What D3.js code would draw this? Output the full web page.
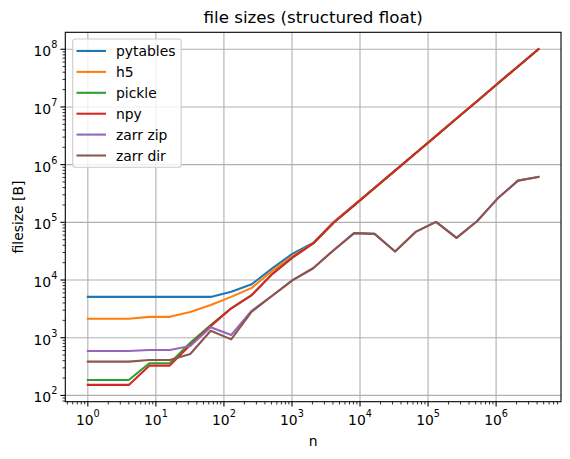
<!DOCTYPE html>
<html>
<head>
<meta charset="utf-8">
<script src="https://cdn.jsdelivr.net/npm/d3@7"></script>
<style>
  body { margin: 0; background: #fff; }
  text { font-family: "DejaVu Sans", sans-serif; fill: #000; }
</style>
</head>
<body>
<svg width="570" height="459"></svg>
<script>
// array sizes (x axis)
var ns = [1, 2, 4, 8, 16, 32, 64, 128, 256, 512, 1024, 2048, 4096, 8192, 16384,
	32768, 65536, 131072, 262144, 524288, 1048576, 2097152, 4194304];

// file sizes in bytes
var pytables = [5100, 5100, 5100, 5100, 5100, 5100, 5100, 6250, 8450, 15900, 28700, 44000,
	101600, 200000, 397000, 790000, 1577000, 3150000, 6296000, 12590000, 25170000, 50340000, 100670000];
var h5 = [2130, 2130, 2130, 2300, 2300, 2800, 3680, 5100, 7300, 14400, 25900, 43000,
	100500, 199000, 396000, 789000, 1576000, 3149000, 6294000, 12587000, 25169000, 50337000, 100668000];
var pickle = [185, 185, 185, 360, 360, 818, 1660, 3230, 5480, 12700, 24700, 43100,
	98600, 196900, 393500, 786700, 1573100, 3146000, 6291700, 12583200, 25166100, 50331900, 100663600];
var npy = [152, 152, 152, 328, 328, 748, 1590, 3230, 5480, 12650, 24600, 43000,
	98432, 196736, 393344, 786560, 1572992, 3145856, 6291584, 12583040, 25165952, 50331776, 100663424];
var zarrZip = [590, 590, 590, 612, 612, 718, 1515, 1115, 2930, 5330, 9950, 16000,
	32900, 65000, 63100, 31300, 68300, 101600, 53700, 104500, 258000, 528000, 611000];
var zarrDir = [385, 385, 385, 411, 411, 522, 1320, 937, 2820, 5330, 9950, 16000,
	32900, 65000, 63100, 31300, 68300, 101600, 53700, 104500, 258000, 528000, 611000];

var seriesNames = ["pytables", "h5", "pickle", "npy", "zarr zip", "zarr dir"];
var seriesValues = [pytables, h5, pickle, npy, zarrZip, zarrDir];
var colors = ["#1f77b4", "#ff7f0e", "#2ca02c", "#d62728", "#9467bd", "#8c564b"];

var xTickExps = [0, 1, 2, 3, 4, 5, 6];
var yTickExps = [2, 3, 4, 5, 6, 7, 8];

var svg = d3.select("svg");
var axLeft = 65.3, axRight = 561, axTop = 32.3, axBottom = 401.7;

// matplotlib style 5% margins in log space
function logDomain(vals)
{
	var lo = Math.log10(d3.min(vals)), hi = Math.log10(d3.max(vals));
	var m = (hi - lo) * 0.05;
	return [Math.pow(10, lo - m), Math.pow(10, hi + m)];
}

var allVals = [].concat.apply([], seriesValues);
var x = d3.scaleLog().domain(logDomain(ns)).range([axLeft, axRight]);
var y = d3.scaleLog().domain(logDomain(allVals)).range([axBottom, axTop]);

// grid
var grid = svg.append("g");
xTickExps.forEach(function(e) {
	var px = x(Math.pow(10, e));
	grid.append("line").attr("x1", px).attr("x2", px).attr("y1", axTop).attr("y2", axBottom)
		.attr("stroke", "#b0b0b0").attr("stroke-width", 1.1);
});
yTickExps.forEach(function(e) {
	var py = y(Math.pow(10, e));
	grid.append("line").attr("x1", axLeft).attr("x2", axRight).attr("y1", py).attr("y2", py)
		.attr("stroke", "#b0b0b0").attr("stroke-width", 1.1);
});

// lines
svg.append("clipPath").attr("id", "clip").append("rect")
	.attr("x", axLeft).attr("y", axTop).attr("width", axRight - axLeft).attr("height", axBottom - axTop);

var line = d3.line()
	.x(function(d, i) { return x(ns[i]); })
	.y(function(d) { return y(d); });

var plot = svg.append("g").attr("clip-path", "url(#clip)");
seriesValues.forEach(function(vals, i) {
	plot.append("path").datum(vals).attr("d", line)
		.attr("fill", "none").attr("stroke", colors[i]).attr("stroke-width", 2.08)
		.attr("stroke-linejoin", "round").attr("stroke-linecap", "square");
});

// minor ticks
function minorTicks(scale)
{
	var d = scale.domain(), out = [];
	for (var e = Math.floor(Math.log10(d[0])); e <= Math.ceil(Math.log10(d[1])); e++)
		for (var m = 2; m <= 9; m++) {
			var v = m * Math.pow(10, e);
			if (v >= d[0] && v <= d[1]) out.push(v);
		}
	return out;
}

var axes = svg.append("g");
minorTicks(x).forEach(function(v) {
	axes.append("line").attr("x1", x(v)).attr("x2", x(v)).attr("y1", axBottom).attr("y2", axBottom + 2.8)
		.attr("stroke", "#000").attr("stroke-width", 0.8);
});
minorTicks(y).forEach(function(v) {
	axes.append("line").attr("x1", axLeft).attr("x2", axLeft - 2.8).attr("y1", y(v)).attr("y2", y(v))
		.attr("stroke", "#000").attr("stroke-width", 0.8);
});

// major ticks and labels
xTickExps.forEach(function(e) {
	var px = x(Math.pow(10, e));
	axes.append("line").attr("x1", px).attr("x2", px).attr("y1", axBottom).attr("y2", axBottom + 4.9)
		.attr("stroke", "#000").attr("stroke-width", 1.1);
	var t = axes.append("text").attr("x", px).attr("y", axBottom + 23.5)
		.attr("text-anchor", "middle").style("font-size", "13.9px");
	t.append("tspan").text("10");
	t.append("tspan").attr("dy", -8).style("font-size", "9.7px").text(e);
});
yTickExps.forEach(function(e) {
	var py = y(Math.pow(10, e));
	axes.append("line").attr("x1", axLeft).attr("x2", axLeft - 4.9).attr("y1", py).attr("y2", py)
		.attr("stroke", "#000").attr("stroke-width", 1.1);
	var t = axes.append("text").attr("x", axLeft - 8).attr("y", py + 7)
		.attr("text-anchor", "end").style("font-size", "13.9px");
	t.append("tspan").text("10");
	t.append("tspan").attr("dy", -8).style("font-size", "9.7px").text(e);
});

// frame
svg.append("rect").attr("x", axLeft).attr("y", axTop).attr("width", axRight - axLeft).attr("height", axBottom - axTop)
	.attr("fill", "none").attr("stroke", "#000").attr("stroke-width", 1.1);

// title and axis labels
svg.append("text").attr("x", (axLeft + axRight) / 2).attr("y", 23).attr("text-anchor", "middle")
	.style("font-size", "16.7px").text("file sizes (structured float)");
svg.append("text").attr("x", (axLeft + axRight) / 2).attr("y", 446).attr("text-anchor", "middle")
	.style("font-size", "13.9px").text("n");
svg.append("text").attr("transform", "translate(23," + ((axTop + axBottom) / 2) + ") rotate(-90)")
	.attr("text-anchor", "middle").style("font-size", "13.9px").text("filesize [B]");

// legend
var leg = svg.append("g");
leg.append("rect").attr("x", 72.7).attr("y", 39).attr("width", 108.5).attr("height", 128.3)
	.attr("rx", 2.8).attr("fill", "#fff").attr("fill-opacity", 0.8)
	.attr("stroke", "#cccccc").attr("stroke-width", 1.1);
seriesNames.forEach(function(name, i) {
	var ly = 51 + i * 20.9;
	leg.append("line").attr("x1", 76.5).attr("x2", 106).attr("y1", ly).attr("y2", ly)
		.attr("stroke", colors[i]).attr("stroke-width", 2.08);
	leg.append("text").attr("x", 116).attr("y", ly + 5).style("font-size", "13.9px").text(name);
});
</script>
</body>
</html>
